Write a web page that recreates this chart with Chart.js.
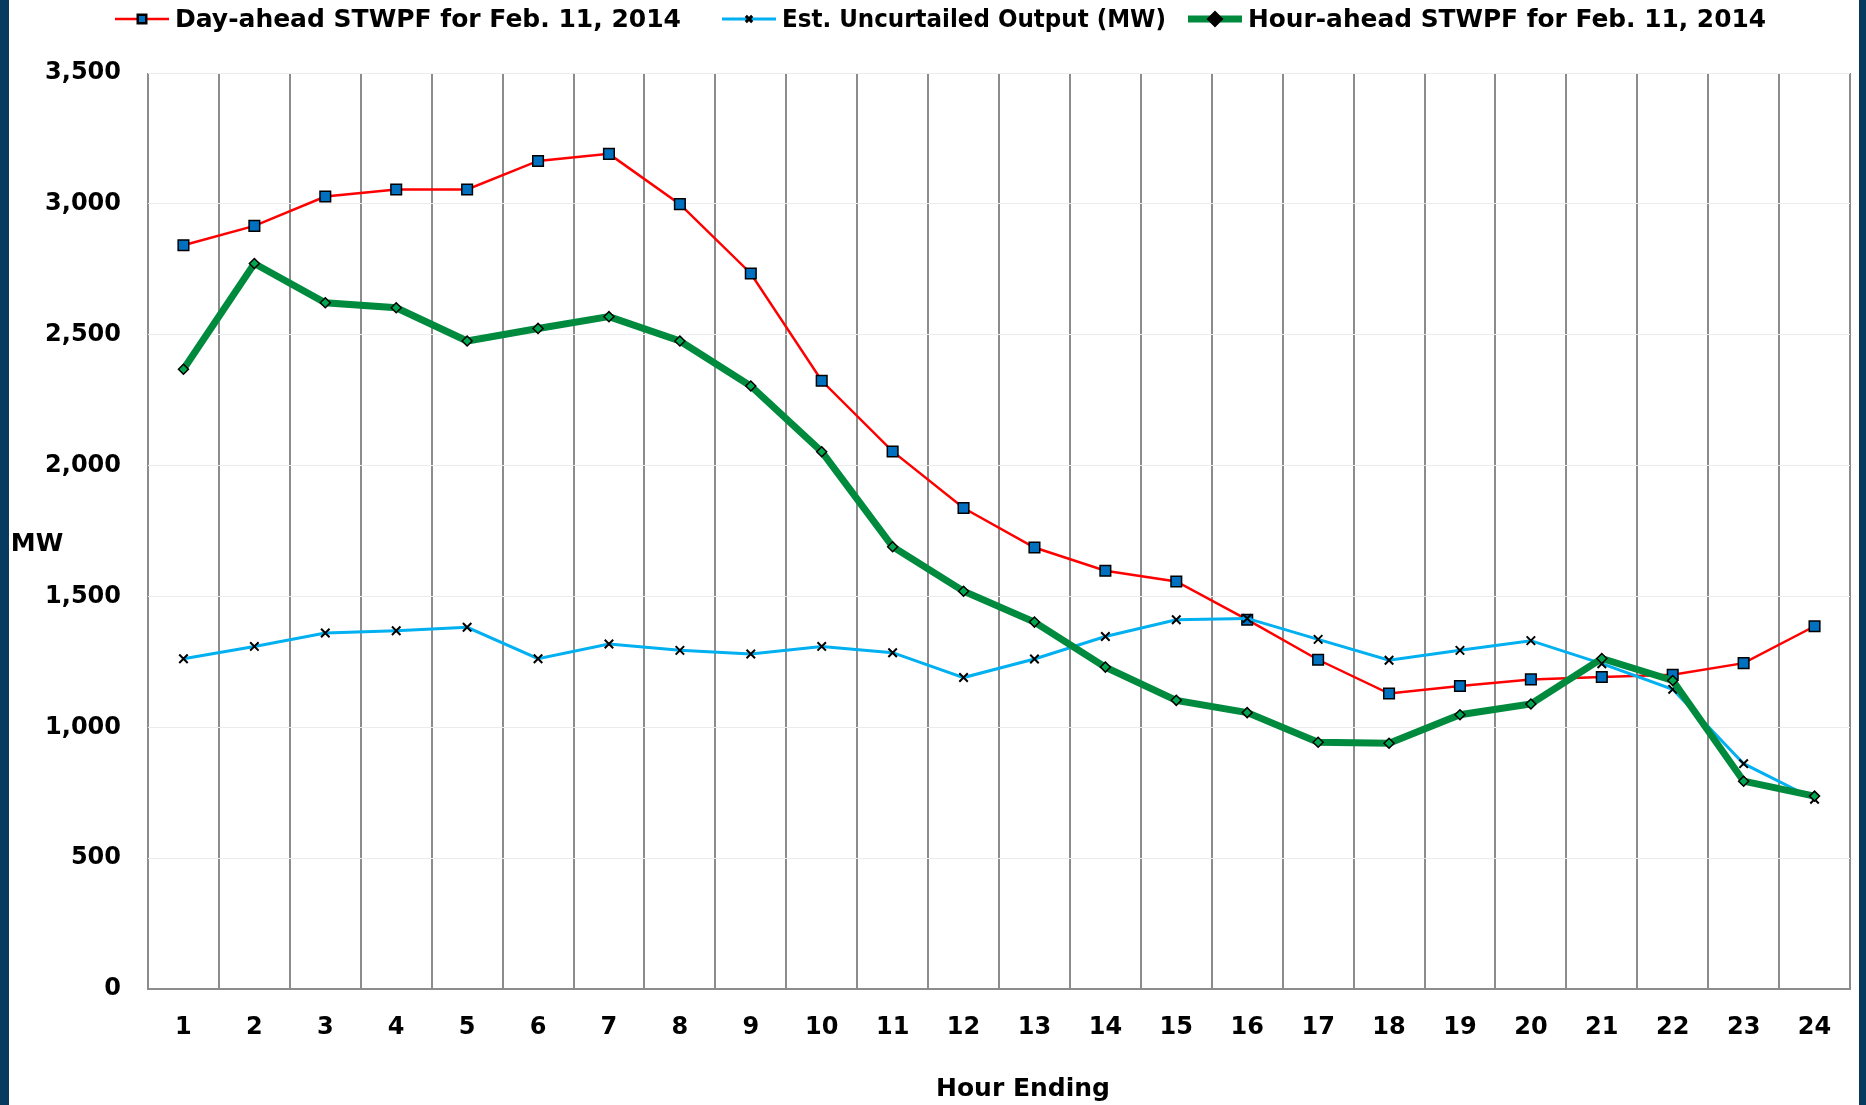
<!DOCTYPE html>
<html>
<head>
<meta charset="utf-8">
<title>STWPF Feb. 11, 2014</title>
<script src="https://cdn.jsdelivr.net/npm/chart.js@4/dist/chart.umd.min.js"></script>
<style>
  html, body { margin: 0; padding: 0; background: #063a5f; }
  #wrap {
    position: absolute; left: 9px; top: 0;
    width: 1850px; height: 1105px; background: #fff;
  }
</style>
</head>
<body>
<div id="wrap"><canvas id="chart"></canvas></div>
<script>
// --- data (MW by hour ending) ---
var hours = ['1','2','3','4','5','6','7','8','9','10','11','12','13','14','15','16','17','18','19','20','21','22','23','24'];
var dayAhead = [2842, 2916, 3028, 3055, 3055, 3164, 3191, 2999, 2734, 2324, 2054, 1838,
                1687, 1598, 1557, 1411, 1258, 1129, 1158, 1183, 1192, 1201, 1245, 1386];
var uncurtailed = [1262, 1309, 1360, 1369, 1382, 1262, 1318, 1294, 1280, 1309, 1285, 1190,
                   1261, 1347, 1411, 1416, 1336, 1256, 1294, 1331, 1243, 1145, 861, 725];
var hourAhead = [2368, 2772, 2622, 2603, 2476, 2524, 2569, 2476, 2304, 2053, 1690, 1520,
                 1402, 1230, 1103, 1056, 943, 939, 1048, 1089, 1263, 1179, 794, 737];
var yTicks = [0, 500, 1000, 1500, 2000, 2500, 3000, 3500];

var FONT = 'DejaVu Sans';
var RED = '#ff0000', BLUE = '#00b0f0', GREEN = '#008a3e';

var series = [
  { label: 'Day-ahead STWPF for Feb. 11, 2014', data: dayAhead, color: RED, width: 2.5,
    style: 'rect', radius: 7.5, fill: '#0070c0', border: 1.5, order: 3 },
  { label: 'Est. Uncurtailed Output (MW)', data: uncurtailed, color: BLUE, width: 3,
    style: 'crossRot', radius: 6, fill: '#000', border: 2, order: 2 },
  { label: 'Hour-ahead STWPF for Feb. 11, 2014', data: hourAhead, color: GREEN, width: 7,
    style: 'rectRot', radius: 5, fill: '#00a650', border: 1.5, order: 1 }
];

// legend slots: symbol left x, text max width (canvas px)
var legendX = [106, 713, 1179];
var legendTextW = [506, 384, 518];

// --- legend, axis titles (drawn flat like the original) ---
var extraText = {
  id: 'extraText',
  afterDraw: function(chart) {
    var ctx = chart.ctx, area = chart.chartArea;
    ctx.save();
    ctx.font = 'bold 25px "' + FONT + '"';
    ctx.fillStyle = '#000';
    ctx.textBaseline = 'middle';
    ctx.textAlign = 'center';
    ctx.fillText('Hour Ending', (area.left + area.right) / 2 + 24, 1089);
    ctx.fillText('MW', 28, (area.top + area.bottom) / 2 + 13);

    // legend row
    var symW = 54, gap = 6, y = 19;
    ctx.textAlign = 'left';
    series.forEach(function(s, i) {
      var x = legendX[i];
      ctx.strokeStyle = s.color;
      ctx.lineWidth = s.width;
      ctx.beginPath();
      ctx.moveTo(x, y);
      ctx.lineTo(x + symW, y);
      ctx.stroke();
      ctx.fillStyle = s.fill;
      ctx.strokeStyle = '#000';
      Chart.helpers.drawPoint(ctx, { pointStyle: s.style, radius: s.radius - 1.5, borderWidth: s.border }, x + symW / 2, y);
      ctx.fillStyle = '#000';
      ctx.fillText(s.label, x + symW + gap, y + 1, legendTextW[i]);
    });
    ctx.restore();
  }
};

var ctx = document.getElementById('chart').getContext('2d');
new Chart(ctx, {
  type: 'line',
  data: {
    labels: hours,
    datasets: series.map(function(s) {
      return {
        label: s.label,
        data: s.data,
        borderColor: s.color,
        borderWidth: s.width,
        tension: 0,
        pointStyle: s.style,
        pointRadius: s.radius,
        pointBackgroundColor: s.fill,
        pointBorderColor: '#000',
        pointBorderWidth: s.border,
        order: s.order
      };
    })
  },
  options: {
    responsive: true,
    maintainAspectRatio: false,
    animation: false,
    layout: { padding: { top: 73, right: 1, left: 0, bottom: 0 } },
    plugins: {
      legend: { display: false },
      tooltip: { enabled: false }
    },
    scales: {
      x: {
        offset: true,
        grid: { offset: true, color: '#8c8c8c', lineWidth: 2, drawTicks: false },
        border: { color: '#8c8c8c', width: 2 },
        ticks: { color: '#000', padding: 24, font: { family: FONT, size: 24, weight: 'bold' } },
        afterFit: function(scale) { scale.height = 116; }
      },
      y: {
        min: 0,
        max: 3500,
        afterBuildTicks: function(scale) {
          scale.ticks = yTicks.map(function(v) { return { value: v }; });
        },
        grid: { color: '#ececec', lineWidth: 1, drawTicks: false },
        border: { display: false },
        ticks: {
          color: '#000',
          padding: 27,
          font: { family: FONT, size: 24, weight: 'bold' },
          callback: function(v) { return v.toLocaleString('en-US'); }
        },
        afterFit: function(scale) { scale.width = 139; }
      }
    }
  },
  plugins: [extraText]
});
</script>
</body>
</html>
